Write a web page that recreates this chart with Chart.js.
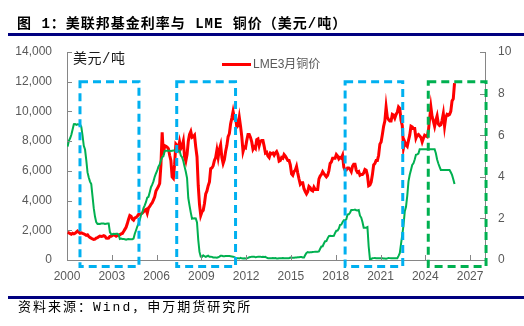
<!DOCTYPE html>
<html>
<head>
<meta charset="utf-8">
<script src="https://cdn.jsdelivr.net/npm/chart.js@4/dist/chart.umd.min.js"></script>
<style>
html,body{margin:0;padding:0;background:#fff;}
#wrap{position:relative;width:524px;height:326px;overflow:hidden;background:#fff;}
#c{position:absolute;left:0;top:0;}
.title{position:absolute;left:17px;top:15px;font:bold 14px/18px "Liberation Mono","Noto Sans CJK SC",sans-serif;letter-spacing:1px;color:#000;white-space:nowrap;}
.rule{position:absolute;left:8px;width:516px;background:#000080;}
.unit{position:absolute;left:73px;top:51px;font:14px/16px "Liberation Mono","Noto Sans CJK SC",sans-serif;letter-spacing:0.5px;color:#1a1a1a;white-space:nowrap;}
.legline{position:absolute;left:222px;top:63px;width:29px;height:3px;background:#ff0000;}
.legtext{position:absolute;left:253px;top:57px;font:12px/14px "Liberation Sans","Noto Sans CJK SC",sans-serif;color:#595959;white-space:nowrap;}
.foot{position:absolute;left:18px;top:300px;font:13px/16px "Liberation Mono","Noto Sans CJK SC",sans-serif;letter-spacing:2px;color:#000;white-space:nowrap;}
</style>
</head>
<body>
<div id="wrap">
  <canvas id="c" width="524" height="326"></canvas>
  <div class="title">图 1：美联邦基金利率与 LME 铜价（美元/吨）</div>
  <div class="rule" style="top:33px;height:3px;"></div>
  <div class="unit">美元/吨</div>
  <div class="legline"></div>
  <div class="legtext">LME3月铜价</div>
  <div class="rule" style="top:296px;height:2.5px;"></div>
  <div class="foot">资料来源：Wind，申万期货研究所</div>
</div>
<script>
// ---- data (monthly, Jan 2000 – Dec 2025) ----
const startYear = 2000;
const copperName = 'LME3月铜价';
const fedName = '美联邦基金利率';

// LME 3-month copper, USD/t (left axis)
const copperPrice = [
  1850,1820,1780,1740,1800,1760,1800,1880,1950,1880,1800,1830, // 2000
  1790,1760,1720,1660,1690,1580,1520,1460,1420,1380,1400,1470, // 2001
  1500,1560,1610,1590,1600,1640,1600,1480,1470,1480,1590,1600, // 2002
  1650,1690,1660,1600,1650,1660,1710,1760,1790,1920,2060,2200, // 2003
  2450,2750,3000,2950,2750,2680,2830,2860,2950,3060,3070,3100, // 2004
  3150,3250,3350,3400,3150,3500,3600,3750,3850,4050,4250,4650, // 2005
  4800,4950,5150,6400,8600,7100,7700,7650,7600,7500,7050,6700, // 2006
  5600,5500,6450,7800,7700,7500,7950,7500,7650,8000,6950,6650, // 2007
  7100,8000,8450,8650,8250,8300,8400,7600,6950,5000,3750,3000, // 2008
  3250,3350,3800,4450,4650,5000,5250,6150,6200,6350,6700,6900, // 2009
  7400,6900,7450,7750,6900,6500,6750,7300,7700,8300,8500,9150, // 2010
  9550,10000,9550,9600,8950,9050,9600,9000,8300,7300,7600,7550, // 2011
  8050,8450,8450,8250,7950,7450,7600,7500,8100,8150,7700,8000, // 2012
  8050,8050,7650,7200,7250,7000,6900,7200,7150,7200,7050,7200, // 2013
  7300,7100,6650,6700,6900,6850,7100,7000,6850,6700,6700,6400, // 2014
  5800,5700,5950,6050,6300,5850,5450,5100,5200,5200,4800,4600, // 2015
  4450,4600,4950,4870,4700,4650,4900,4750,4750,4750,5450,5650, // 2016
  5750,5950,5820,5700,5600,5700,6000,6500,6600,6850,6850,6850, // 2017
  7100,7000,6800,6900,6850,7050,6250,6050,6050,6200,6200,6100, // 2018
  5950,6300,6450,6450,6050,5900,5950,5700,5750,5750,5850,6100, // 2019
  6050,5700,5000,5050,5250,5750,6400,6500,6700,6700,7050,7800, // 2020
  7950,8450,9000,9350,10300,9600,9450,9350,9350,9800,9750,9550, // 2021
  9800,9950,10300,10200,9400,9050,7550,7950,7750,7650,8050,8400, // 2022
  9000,8950,8850,8850,8200,8400,8450,8350,8250,7950,8200,8400, // 2023
  8350,8300,8700,9500,10300,9650,9350,9000,9400,9700,9150,9050, // 2024
  9100,9400,9850,9000,9600,9800,9750,9800,10000,10700,10850,11900  // 2025
];

// Effective federal funds rate, % (right axis)
const fedFundsRate = [
  5.45,5.73,5.85,6.02,6.27,6.53,6.54,6.50,6.52,6.51,6.51,6.40, // 2000
  5.98,5.49,5.31,4.80,4.21,3.97,3.77,3.65,3.07,2.49,2.09,1.82, // 2001
  1.73,1.74,1.73,1.75,1.75,1.75,1.73,1.74,1.75,1.75,1.34,1.24, // 2002
  1.24,1.26,1.25,1.26,1.26,1.22,1.01,1.03,1.01,1.01,1.00,0.98, // 2003
  1.00,1.01,1.00,1.00,1.00,1.03,1.26,1.43,1.61,1.76,1.93,2.16, // 2004
  2.28,2.50,2.63,2.79,3.00,3.04,3.26,3.50,3.62,3.78,4.00,4.16, // 2005
  4.29,4.49,4.59,4.79,4.94,4.99,5.24,5.25,5.25,5.25,5.25,5.24, // 2006
  5.25,5.26,5.26,5.25,5.25,5.25,5.26,5.02,4.94,4.76,4.49,4.24, // 2007
  3.94,2.98,2.61,2.28,1.98,2.00,2.01,2.00,1.81,0.97,0.39,0.16, // 2008
  0.15,0.22,0.18,0.15,0.18,0.21,0.16,0.16,0.15,0.12,0.12,0.12, // 2009
  0.11,0.13,0.16,0.20,0.20,0.18,0.18,0.19,0.19,0.19,0.19,0.18, // 2010
  0.17,0.16,0.14,0.10,0.09,0.09,0.07,0.10,0.08,0.07,0.08,0.07, // 2011
  0.08,0.10,0.13,0.14,0.16,0.16,0.16,0.13,0.14,0.16,0.16,0.16, // 2012
  0.14,0.15,0.14,0.15,0.11,0.09,0.09,0.08,0.08,0.09,0.08,0.09, // 2013
  0.07,0.07,0.08,0.09,0.09,0.10,0.09,0.09,0.09,0.09,0.09,0.12, // 2014
  0.11,0.11,0.11,0.12,0.12,0.13,0.13,0.14,0.14,0.12,0.12,0.24, // 2015
  0.34,0.38,0.36,0.37,0.37,0.38,0.39,0.40,0.40,0.40,0.41,0.54, // 2016
  0.65,0.66,0.79,0.90,0.91,1.04,1.15,1.16,1.15,1.15,1.16,1.30, // 2017
  1.41,1.42,1.51,1.69,1.70,1.82,1.91,1.91,1.95,2.19,2.20,2.27, // 2018
  2.40,2.40,2.41,2.42,2.39,2.38,2.40,2.13,2.04,1.83,1.55,1.55, // 2019
  1.55,1.58,0.65,0.05,0.05,0.08,0.09,0.10,0.09,0.09,0.09,0.09, // 2020
  0.09,0.08,0.07,0.07,0.06,0.08,0.10,0.09,0.08,0.08,0.08,0.08, // 2021
  0.08,0.08,0.20,0.33,0.77,1.21,1.68,2.33,2.56,3.08,3.78,4.10, // 2022
  4.33,4.57,4.65,4.83,5.06,5.08,5.12,5.33,5.33,5.33,5.33,5.33, // 2023
  5.33,5.33,5.33,5.33,5.33,5.33,5.33,5.33,5.13,4.83,4.64,4.48, // 2024
  4.33,4.33,4.33,4.33,4.33,4.33,4.33,4.33,4.22,4.09,3.88,3.65  // 2025
];

const xTickYears = [2000,2003,2006,2009,2012,2015,2018,2021,2024,2027];
const leftTicks = [0,2000,4000,6000,8000,10000,12000,14000];
const rightTicks = [0,2,4,6,8,10];

// highlighted periods (years) for dashed frames
const highlightPeriods = [
  {from:2000.87, to:2004.82, color:'#00B0F0'},
  {from:2007.35, to:2011.29, color:'#00B0F0'},
  {from:2018.63, to:2022.49, color:'#00B0F0'},
  {from:2024.20, to:2028.07, color:'#00B050'}
];
const frameTopValue = 12000;

// ---- chart ----
const toPoints = arr => arr.map((v,i)=>({x: startYear + (i+0.5)/12, y: v}));
const axisGrey = '#868686';

const decor = {
  id:'decor',
  afterDraw(chart){
    const {ctx, chartArea:a, scales:{x,y,y1}} = chart;
    ctx.save();
    ctx.strokeStyle = axisGrey; ctx.lineWidth = 1;
    ctx.beginPath();
    y.ticks.forEach(t=>{const p=Math.round(y.getPixelForValue(t.value))+0.5; ctx.moveTo(a.left,p); ctx.lineTo(a.left+5,p);});
    y1.ticks.forEach(t=>{const p=Math.round(y1.getPixelForValue(t.value))+0.5; ctx.moveTo(a.right-5,p); ctx.lineTo(a.right,p);});
    x.ticks.forEach(t=>{const p=Math.round(x.getPixelForValue(t.value))+0.5; ctx.moveTo(p,a.bottom-5); ctx.lineTo(p,a.bottom);});
    ctx.stroke();
    ctx.lineWidth = 3;
    ctx.setLineDash([8,5]);
    highlightPeriods.forEach(b=>{
      const x0 = x.getPixelForValue(b.from), x1 = x.getPixelForValue(b.to);
      const top = y.getPixelForValue(frameTopValue), bot = a.bottom + 6.5;
      ctx.strokeStyle = b.color;
      ctx.strokeRect(x0, top, x1-x0, bot-top);
    });
    ctx.restore();
  }
};

Chart.defaults.font.family = "'Liberation Sans', Arial, sans-serif";
Chart.defaults.font.size = 12;
Chart.defaults.color = '#595959';

new Chart(document.getElementById('c'), {
  type:'line',
  data:{
    datasets:[
      {label: fedName, data: toPoints(fedFundsRate), yAxisID:'y1', borderColor:'#00B050', backgroundColor:'#00B050', borderWidth:2, pointRadius:0, tension:0, order:0},
      {label: copperName, data: toPoints(copperPrice), yAxisID:'y', borderColor:'#FF0000', backgroundColor:'#FF0000', borderWidth:3, pointRadius:0, tension:0, order:1}
    ]
  },
  options:{
    responsive:false, animation:false, devicePixelRatio:1,
    layout:{padding:{left:0, top:52, right:9, bottom:36}},
    plugins:{legend:{display:false}, tooltip:{enabled:false}, title:{display:false}},
    scales:{
      x:{type:'linear', position:'bottom', min:2000, max:2028,
        afterBuildTicks: s => { s.ticks = xTickYears.map(v=>({value:v})); },
        afterFit: s => { s.height = 30; },
        grid:{drawOnChartArea:false, drawTicks:false},
        border:{color:axisGrey, width:1},
        ticks:{padding:9, autoSkip:false, maxRotation:0, callback: v => String(v)}},
      y:{position:'left', min:0, max:14000,
        afterBuildTicks: s => { s.ticks = leftTicks.map(v=>({value:v})); },
        afterFit: s => { s.width = 67; },
        grid:{drawOnChartArea:false, drawTicks:false},
        border:{color:axisGrey, width:1},
        ticks:{padding:15, callback: v => v.toLocaleString('en-US')}},
      y1:{position:'right', min:0, max:10,
        afterBuildTicks: s => { s.ticks = rightTicks.map(v=>({value:v})); },
        afterFit: s => { s.width = 30; },
        grid:{drawOnChartArea:false, drawTicks:false},
        border:{color:axisGrey, width:1},
        ticks:{padding:13, callback: v => String(v)}}
    }
  },
  plugins:[decor]
});
</script>
</body>
</html>
